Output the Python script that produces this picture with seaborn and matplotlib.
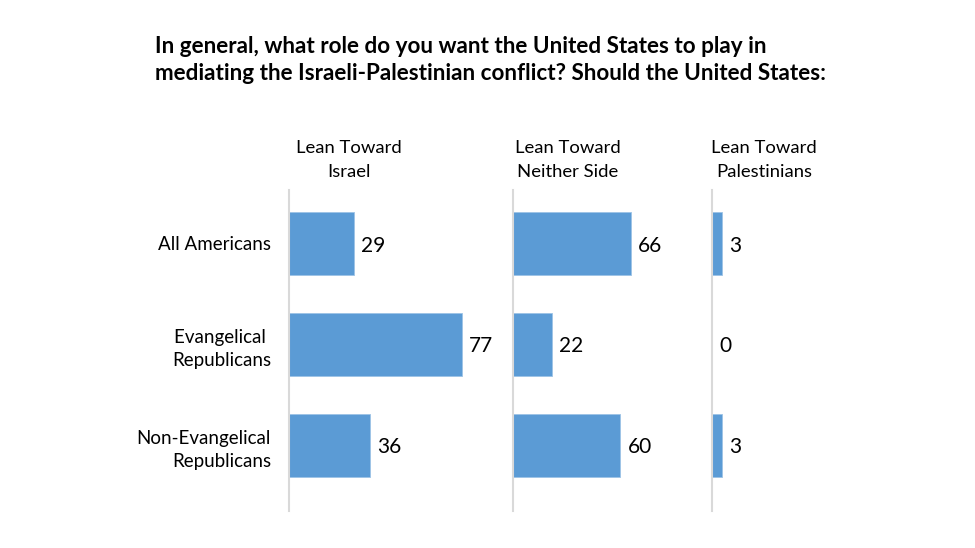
import matplotlib
matplotlib.use("Agg")
import matplotlib.pyplot as plt
import seaborn as sns
import pandas as pd

# chart data
groups = ["All Americans", "Evangelical \nRepublicans", "Non-Evangelical\nRepublicans"]
columns = ["Lean Toward\nIsrael", "Lean Toward\nNeither Side", "Lean Toward\nPalestinians"]
israel = [29, 77, 36]
neither = [66, 22, 60]
palestinians = [3, 0, 3]

sns.set_theme(style="white")
plt.rcParams["font.family"] = ["Lato", "DejaVu Sans"]

bar_color = "#5B9BD5"
fig = plt.figure(figsize=(9.75, 5.48), dpi=100)

W, H = 975, 548
bottom, top = 511, 190
# (left px, px per unit, xmax)
panels = [(289, 2.247, 100), (513, 1.79, 100), (712, 3.3, 30)]
series = [israel, neither, palestinians]
centers = [349, 568, 764]

for i, ((left, ppu, xmax), vals, col) in enumerate(zip(panels, series, columns)):
    ax = fig.add_axes([left / W, 1 - bottom / H, ppu * xmax / W, (bottom - top) / H])
    df = pd.DataFrame({"group": groups, "value": vals})
    sns.barplot(data=df, x="value", y="group", orient="h", color=bar_color,
                saturation=1, width=0.62, edgecolor="#9dc3e6", linewidth=0.6, ax=ax)
    ax.set_xlim(0, xmax)
    ax.set_ylim(2.65, -0.53)
    ax.set_xlabel("")
    ax.set_ylabel("")
    ax.set_xticks([])
    for s in ["top", "right", "bottom"]:
        ax.spines[s].set_visible(False)
    ax.spines["left"].set_color("#d9d9d9")
    ax.spines["left"].set_linewidth(1.5)
    if i == 0:
        ax.tick_params(axis="y", length=0, pad=13)
        ax.set_yticks(range(len(groups)))
        ax.set_yticklabels(groups, fontsize=13.5, color="#000000", ha="right",
                           linespacing=1.45, va="center_baseline")
    else:
        ax.set_yticks([])
    for j, v in enumerate(vals):
        ax.text(v + 7 / ppu, j + 0.02, str(v), va="center", ha="left",
                fontsize=15, color="#000000")
    fig.text(centers[i] / W, 1 - 160 / H, col, ha="center", va="center",
             fontsize=13.3, color="#000000", linespacing=1.6)

fig.text(155 / W, 1 - 60 / H,
         "In general, what role do you want the United States to play in\n"
         "mediating the Israeli-Palestinian conflict? Should the United States:",
         ha="left", va="center", fontsize=16.2, fontweight="bold",
         color="#000000", linespacing=1.32)

fig.savefig("out.png", dpi=100)
